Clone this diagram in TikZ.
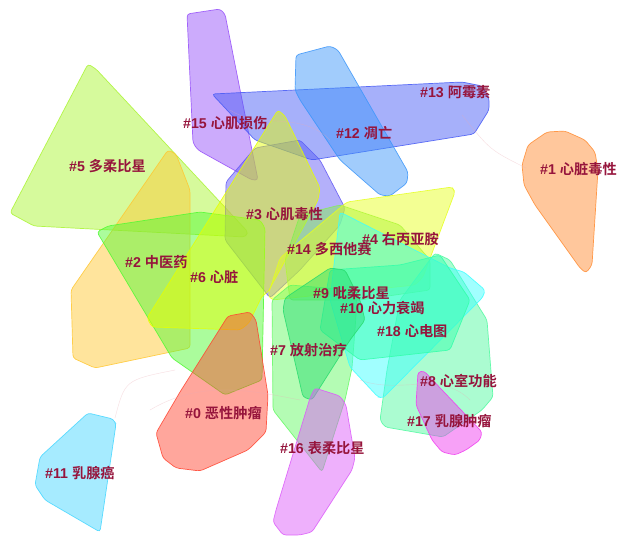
\documentclass[tikz,border=0pt]{standalone}
\usepackage{fontspec}
\setmainfont{Liberation Sans}
\newfontfamily\cjk{Noto Sans CJK SC}[BoldFont={Noto Sans CJK SC Bold}]
\begin{document}
\begin{tikzpicture}[x=1pt,y=-1pt,
  hull/.style={fill=#1,draw=#1,fill opacity=0.48,draw opacity=0.85,line width=0.7pt,rounded corners=3pt},
  lbl/.style={anchor=west,text=labred,font=\bfseries\fontsize{14.2}{14.2}\selectfont,inner sep=0pt},
  link/.style={draw=linkc,line width=0.4pt,opacity=0.4}]
\definecolor{labred}{RGB}{150,20,60}
\definecolor{linkc}{RGB}{235,170,180}
\definecolor{cPurple}{RGB}{150,80,250}
\definecolor{cBand}{RGB}{70,90,245}
\definecolor{cSky}{RGB}{60,150,250}
\definecolor{cOrange}{RGB}{255,140,50}
\definecolor{cLime}{RGB}{170,245,50}
\definecolor{cGold}{RGB}{255,200,50}
\definecolor{cGreen}{RGB}{80,250,50}
\definecolor{cYellow}{RGB}{230,255,0}
\definecolor{cViolet}{RGB}{100,90,245}
\definecolor{cRed}{RGB}{255,70,50}
\definecolor{cCyan}{RGB}{70,215,255}
\definecolor{cYel2}{RGB}{230,255,30}
\definecolor{cLime2}{RGB}{130,240,80}
\definecolor{cGreen2}{RGB}{40,220,110}
\definecolor{cMint}{RGB}{50,255,170}
\definecolor{cAqua}{RGB}{60,255,255}
\definecolor{cMint2}{RGB}{80,250,160}
\definecolor{cGreen3}{RGB}{100,250,100}
\definecolor{cMag}{RGB}{240,60,240}
\definecolor{cMag2}{RGB}{220,90,250}
\useasboundingbox (0,0) rectangle (619,538);
\fill[white] (0,0) rectangle (619,538);
% hulls
\path[hull=cLime] (88,64) -- (96,69) -- (248,232) -- (245,237) -- (34,226) -- (10,213) -- cycle;
\path[hull=cPurple] (187,14) -- (220,9) -- (225,14) -- (251,145) -- (258,180) -- (252,180) -- (198,150) -- (193,143) -- cycle;
\path[hull=cViolet] (226,182) -- (255,148) -- (300,140) -- (320,160) -- (345,208) -- (340,225) -- (300,270) -- (270,298) -- (225,240) -- cycle;
\path[hull=cBand] (212,94) -- (462,82) -- (482,86) -- (489,98) -- (489,110) -- (474,134) -- (312,160) -- (255,140) -- cycle;
\path[hull=cSky] (296,55) -- (330,46) -- (338,50) -- (408,172) -- (407,183) -- (390,196) -- (380,195) -- (340,160) -- (300,100) -- (295,90) -- cycle;
\path[hull=cOrange] (528,145) -- (547,132) -- (565,131) -- (585,140) -- (595,152) -- (598,170) -- (592,265) -- (586,273) -- (580,268) -- (535,205) -- (524,185) -- (522,165) -- cycle;
\path[hull=cGold] (168,150) -- (176,154) -- (190,190) -- (190,348) -- (95,368) -- (73,358) -- (71,290) -- cycle;
\path[hull=cGreen] (97,232) -- (108,226) -- (200,212) -- (260,220) -- (265,228) -- (262,380) -- (225,395) -- (172,358) -- cycle;
\path[hull=cYellow] (278,110) -- (285,116) -- (320,188) -- (318,200) -- (268,292) -- (262,296) -- (249,323) -- (240,330) -- (152,327) -- (147,318) -- cycle;
\path[hull=cLime2] (300,215) -- (340,205) -- (400,225) -- (430,260) -- (430,290) -- (360,300) -- (290,300) -- (285,260) -- cycle;
\path[hull=cYel2] (347,202) -- (452,187) -- (455,192) -- (423,277) -- (415,285) -- (272,300) -- (268,295) -- (280,258) -- cycle;
\path[hull=cRed] (228,316) -- (250,312) -- (256,320) -- (268,395) -- (266,432) -- (248,450) -- (200,471) -- (176,468) -- (163,458) -- (156,433) -- (180,392) -- cycle;
\path[hull=cCyan] (88,413) -- (113,419) -- (116,424) -- (100,532) -- (45,500) -- (35,485) -- (40,457) -- cycle;
\path[hull=cGreen3] (272,300) -- (290,285) -- (350,290) -- (357,300) -- (355,330) -- (352,368) -- (345,400) -- (322,472) -- (273,410) -- cycle;
\path[hull=cMint2] (435,253) -- (450,260) -- (487,320) -- (493,397) -- (482,410) -- (443,437) -- (385,427) -- (380,420) -- (387,370) -- (400,300) -- cycle;
\path[hull=cAqua] (340,212) -- (450,268) -- (464,272) -- (485,290) -- (483,297) -- (383,398) -- (378,397) -- (350,367) -- (330,300) -- cycle;
\path[hull=cMint] (330,270) -- (400,265) -- (440,255) -- (470,300) -- (450,350) -- (360,360) -- (320,330) -- cycle;
\path[hull=cGreen2] (285,298) -- (330,268) -- (345,270) -- (360,300) -- (365,320) -- (350,340) -- (312,400) -- (303,397) -- (283,310) -- cycle;
\path[hull=cMag] (418,372) -- (424,371) -- (482,432) -- (480,440) -- (466,450) -- (455,455) -- (442,452) -- (432,440) -- (416,405) -- cycle;
\path[hull=cMag2] (315,388) -- (340,396) -- (346,405) -- (355,458) -- (352,470) -- (312,532) -- (300,535) -- (283,535) -- (273,522) -- (276,510) -- (310,398) -- cycle;
% faint links
\coordinate (l13) at (462,115); \coordinate (l1) at (526,168);
\coordinate (l11) at (115,418); \coordinate (l0) at (175,370);
\draw[link] (l13) .. controls (490,150) .. (l1);
\draw[link] (l11) .. controls (125,380) .. (l0);
\draw[link] (230,110) .. controls (260,130) and (300,110) .. (330,140);
\draw[link] (150,410) .. controls (200,380) and (250,390) .. (300,400);
\draw[link] (360,380) .. controls (400,395) and (440,370) .. (470,400);
% labels
\node[lbl] (n15) at (183,123) {\#15 {\cjk 心肌损伤}};
\node[lbl] (n5) at (69,166) {\#5 {\cjk 多柔比星}};
\node[lbl] (n13) at (420,92) {\#13 {\cjk 阿霉素}};
\node[lbl] (n12) at (336,133) {\#12 {\cjk 凋亡}};
\node[lbl] (n1) at (540,169) {\#1 {\cjk 心脏毒性}};
\node[lbl] (n3) at (246,214) {\#3 {\cjk 心肌毒性}};
\node[lbl] (n4) at (362,239) {\#4 {\cjk 右丙亚胺}};
\node[lbl] (n14) at (287,249) {\#14 {\cjk 多西他赛}};
\node[lbl] (n2) at (125,262) {\#2 {\cjk 中医药}};
\node[lbl] (n6) at (190,277) {\#6 {\cjk 心脏}};
\node[lbl] (n9) at (313,293) {\#9 {\cjk 吡柔比星}};
\node[lbl] (n10) at (340,308) {\#10 {\cjk 心力衰竭}};
\node[lbl] (n18) at (377,331) {\#18 {\cjk 心电图}};
\node[lbl] (n7) at (270,350) {\#7 {\cjk 放射治疗}};
\node[lbl] (n8) at (420,381) {\#8 {\cjk 心室功能}};
\node[lbl] (n0) at (185,413) {\#0 {\cjk 恶性肿瘤}};
\node[lbl] (n17) at (407,421) {\#17 {\cjk 乳腺肿瘤}};
\node[lbl] (n16) at (280,448) {\#16 {\cjk 表柔比星}};
\node[lbl] (n11) at (45,473) {\#11 {\cjk 乳腺癌}};
\end{tikzpicture}
\end{document}
